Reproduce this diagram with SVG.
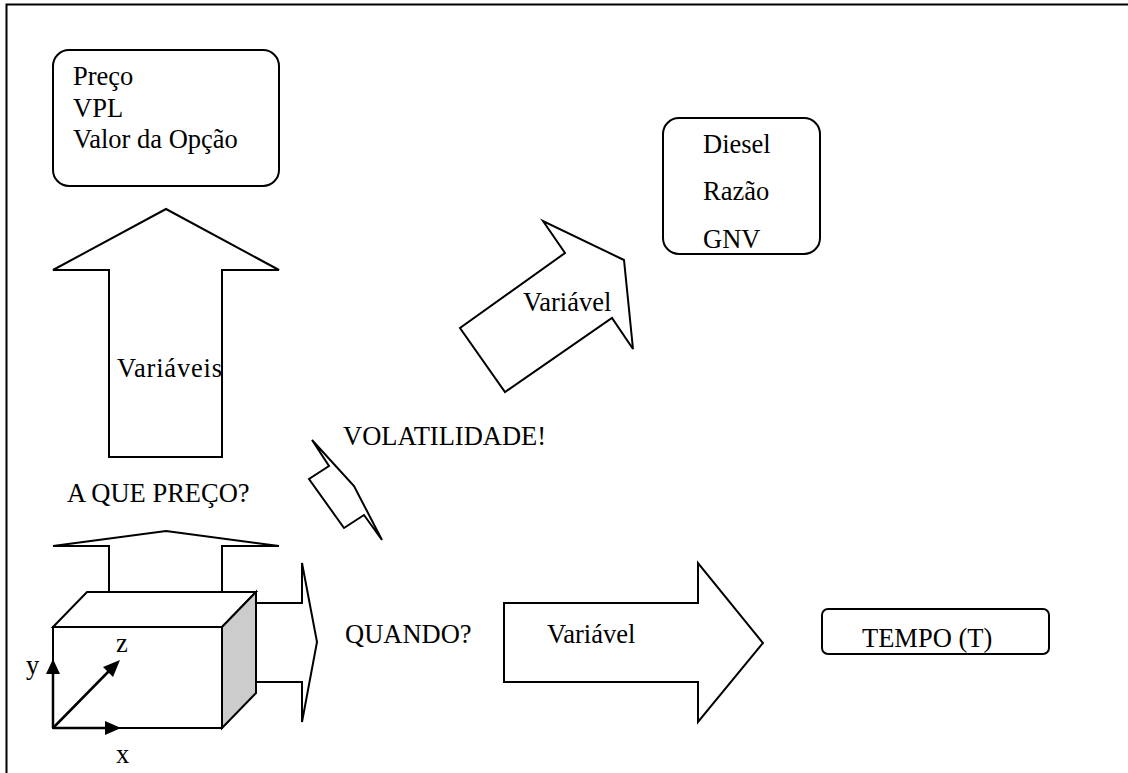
<svg xmlns="http://www.w3.org/2000/svg" width="1128" height="773" viewBox="0 0 1128 773">
<style>
.s{fill:#fff;stroke:#000;stroke-width:2;stroke-linejoin:miter}
.t{font-family:"Liberation Serif",Tinos,"Times New Roman","DejaVu Serif",serif;font-size:26.5px;fill:#000}
.ax{stroke:#000;stroke-width:2.5;fill:none}
.hd{fill:#000;stroke:none}
</style>
<rect width="1128" height="773" fill="#fff"/>
<g id="frame"><path d="M6.5,773 V4.5 H1128" fill="none" stroke="#000" stroke-width="2"/></g>
<g id="connectors">
<path id="arrow-up-big" class="s" d="M166,209 L279,270 L222,270 L222,457 L109,457 L109,270 L53,270 Z"/>
<path id="arrow-up-small" class="s" d="M166,531 L279,546 L222,546 L222,592 L109,592 L109,546 L53,546 Z"/>
<path id="arrow-right-small" class="s" d="M256,603 L302,603 L302,563 L317,642 L302,722 L302,682 L256,682 Z"/>
<path id="arrow-vol" class="s" d="M312,440 L329,466 L309,479 L344,528 L364,515 L382,540 L354,486 Z"/>
<path id="arrow-diag" class="s" d="M543,221 L565,253 L460,328 L505,392 L612,318 L633,349 L624,260 Z"/>
<path id="arrow-right-big" class="s" d="M504,603 L698,603 L698,563 L763,643 L698,722 L698,682 L504,682 Z"/>
</g>
<g id="node-resultados">
<rect class="s" x="53" y="50" width="226" height="136" rx="16"/>
<text class="t" font-family="Liberation Serif, serif" x="73" y="85">Preço</text>
<text class="t" font-family="Liberation Serif, serif" x="73" y="117">VPL</text>
<text class="t" font-family="Liberation Serif, serif" x="73" y="148">Valor da Opção</text>
</g>
<g id="node-combustiveis">
<rect class="s" x="663" y="118" width="157" height="136" rx="16"/>
<text class="t" font-family="Liberation Serif, serif" x="703" y="153">Diesel</text>
<text class="t" font-family="Liberation Serif, serif" x="703" y="200">Razão</text>
<text class="t" font-family="Liberation Serif, serif" x="703" y="248">GNV</text>
</g>
<g id="node-tempo">
<rect class="s" x="822" y="609" width="227" height="45" rx="6"/>
<text class="t" font-family="Liberation Serif, serif" x="862" y="647">TEMPO (T)</text>
</g>
<g id="node-cubo">
<path class="s" d="M53,627 L87,592 L256,592 L222,627 Z"/>
<path d="M222,627 L256,592 L256,693 L222,728 Z" fill="#cccccc" stroke="#000" stroke-width="2"/>
<rect class="s" x="53" y="627" width="169" height="101"/>
<line class="ax" x1="53" y1="728" x2="53" y2="672"/>
<polygon class="hd" points="53,659 60,674 46,674"/>
<line class="ax" x1="53" y1="728" x2="106" y2="728"/>
<polygon class="hd" points="121,728 105,721 105,735"/>
<line class="ax" x1="53" y1="728" x2="109" y2="671" stroke-width="2"/>
<polygon class="hd" points="120,660 113,677 103,667"/>
<text class="t" font-family="Liberation Serif, serif" x="26" y="674" font-size="28">y</text>
<text class="t" font-family="Liberation Serif, serif" x="116" y="652" font-size="28">z</text>
<text class="t" font-family="Liberation Serif, serif" x="116" y="763" font-size="28">x</text>
</g>
<g id="labels">
<text class="t" font-family="Liberation Serif, serif" x="117" y="377" textLength="105">Variáveis</text>
<text class="t" font-family="Liberation Serif, serif" x="67" y="502">A QUE PREÇO?</text>
<text class="t" font-family="Liberation Serif, serif" x="343" y="445">VOLATILIDADE!</text>
<text class="t" font-family="Liberation Serif, serif" x="345" y="643">QUANDO?</text>
<text class="t" font-family="Liberation Serif, serif" x="523" y="311">Variável</text>
<text class="t" font-family="Liberation Serif, serif" x="547" y="643">Variável</text>
</g>
</svg>
